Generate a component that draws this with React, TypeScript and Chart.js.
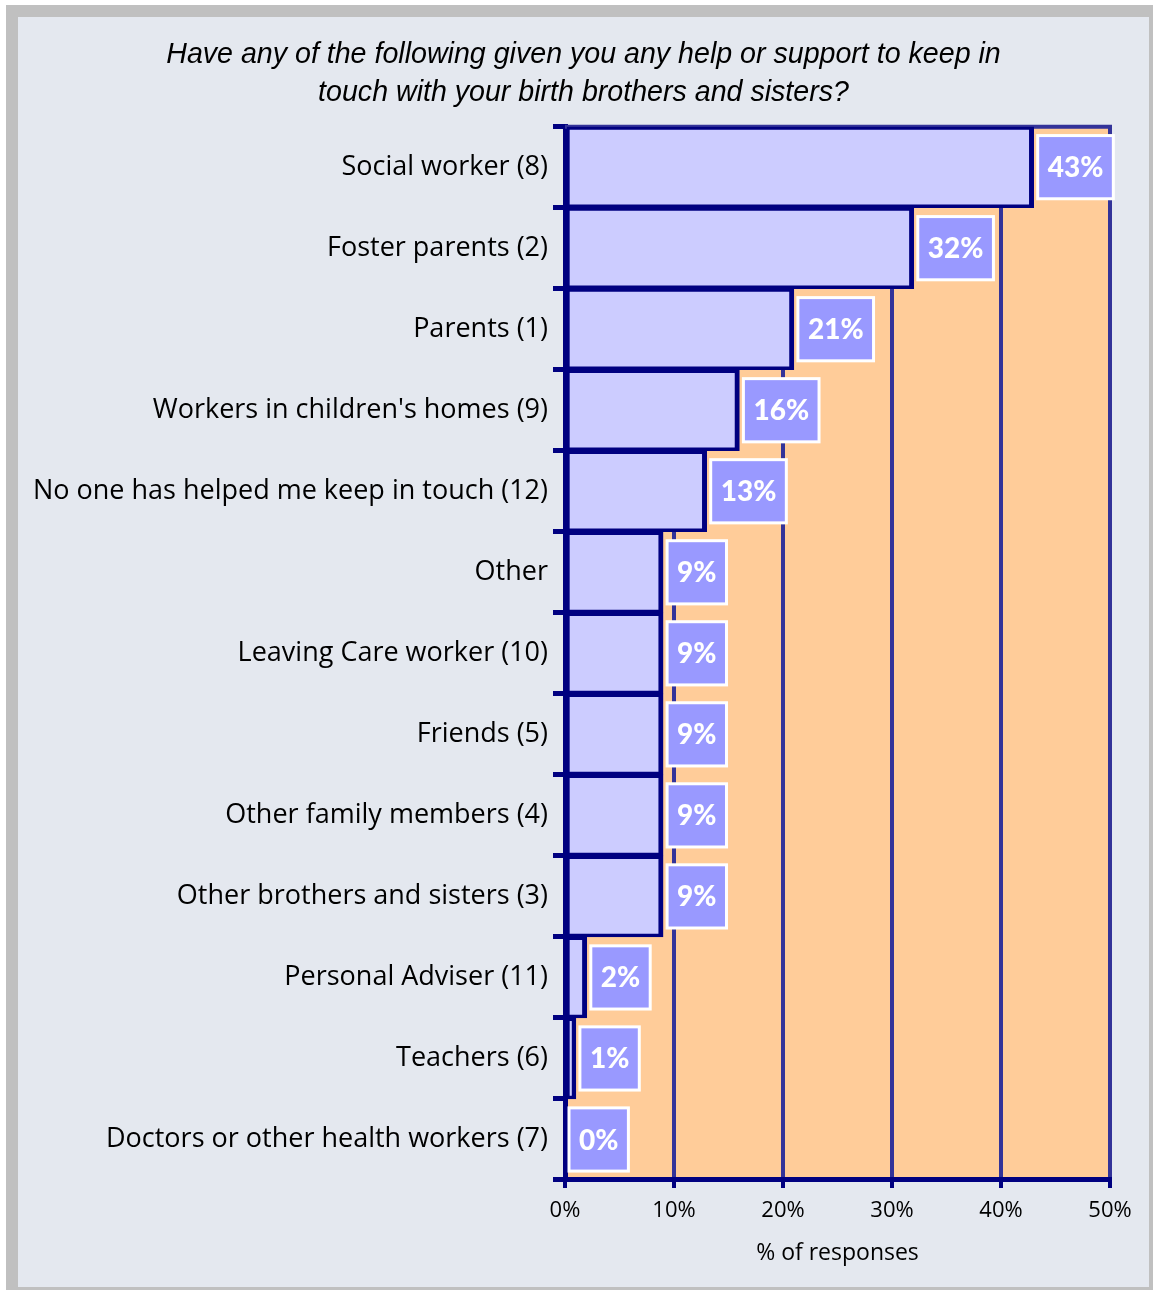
import React, { useEffect, useRef } from "react";
import { Chart, registerables } from "chart.js";

Chart.register(...registerables);

const categories = [
  "Social worker (8)",
  "Foster parents (2)",
  "Parents (1)",
  "Workers in children's homes (9)",
  "No one has helped me keep in touch (12)",
  "Other",
  "Leaving Care worker (10)",
  "Friends (5)",
  "Other family members (4)",
  "Other brothers and sisters (3)",
  "Personal Adviser (11)",
  "Teachers (6)",
  "Doctors or other health workers (7)",
];
const values = [43, 32, 21, 16, 13, 9, 9, 9, 9, 9, 2, 1, 0];
const valueLabels = ["43%", "32%", "21%", "16%", "13%", "9%", "9%", "9%", "9%", "9%", "2%", "1%", "0%"];
const titleLines = [
  "Have any of the following given you any help or support to keep in",
  "touch with your birth brothers and sisters?",
];
const xAxisTitle = "% of responses";
const xMin = 0;
const xMax = 50;
const xStep = 10;

const NAVY = "#000080";
const GRID = "#333399";
const ORANGE = "#ffcc99";
const BAR = "#ccccff";
const LABEL_BG = "#9999ff";
const FONT = "'Open Sans', Lato, sans-serif";
const LABEL_FONT = "Lato, 'Open Sans', sans-serif";

const plotBg = {
  id: "plotBg",
  beforeDraw(chart: any) {
    const { ctx, chartArea } = chart;
    ctx.save();
    ctx.fillStyle = ORANGE;
    ctx.fillRect(chartArea.left, chartArea.top, chartArea.right - chartArea.left, chartArea.bottom - chartArea.top);
    ctx.restore();
  },
  beforeDatasetsDraw(chart: any) {
    const { ctx, chartArea } = chart;
    ctx.save();
    ctx.strokeStyle = GRID;
    ctx.lineWidth = 4;
    ctx.beginPath();
    ctx.moveTo(chartArea.left, chartArea.top);
    ctx.lineTo(chartArea.right + 2, chartArea.top);
    ctx.stroke();
    ctx.restore();
  },
};

const boxLabels = {
  id: "boxLabels",
  afterDatasetsDraw(chart: any) {
    const { ctx } = chart;
    const meta = chart.getDatasetMeta(0);
    ctx.save();
    ctx.font = `900 28px ${LABEL_FONT}`;
    ctx.textAlign = "center";
    ctx.textBaseline = "middle";
    meta.data.forEach((el: any, i: number) => {
      const { x, y, height } = el.getProps(["x", "y", "height"], true);
      const text = valueLabels[i];
      const tw = ctx.measureText(text).width;
      const w = tw + 20;
      const h = height * 0.78;
      const left = x + 4;
      const top = y - h / 2;
      ctx.fillStyle = LABEL_BG;
      ctx.fillRect(left, top, w, h);
      ctx.strokeStyle = "#ffffff";
      ctx.lineWidth = 3;
      ctx.strokeRect(left, top, w, h);
      ctx.fillStyle = "#ffffff";
      ctx.fillText(text, left + w / 2, y + 1);
    });
    ctx.restore();
  },
};

export default function App() {
  const ref = useRef<HTMLCanvasElement | null>(null);

  useEffect(() => {
    if (!ref.current) return;
    const chart = new Chart(ref.current, {
      type: "bar",
      data: {
        labels: categories,
        datasets: [
          {
            data: values,
            backgroundColor: BAR,
            borderColor: NAVY,
            borderWidth: { left: 3, top: 3.5, bottom: 3.5, right: 5 } as any,
            borderSkipped: false,
            barPercentage: 1,
            categoryPercentage: 1,
          },
        ],
      },
      options: {
        indexAxis: "y",
        responsive: false,
        animation: false,
        layout: { padding: { left: 18, right: 4, top: 17, bottom: 19 } },
        plugins: {
          legend: { display: false },
          tooltip: { enabled: false },
          title: {
            display: true,
            text: titleLines,
            color: "#000",
            font: { family: "'Liberation Sans', Arial, sans-serif", size: 28.6, style: "italic", weight: "normal", lineHeight: 1.34 },
            padding: { top: 19, bottom: 14 },
          },
        },
        scales: {
          x: {
            type: "linear",
            min: xMin,
            max: xMax,
            ticks: {
              stepSize: xStep,
              callback: (v: any) => v + "%",
              color: "#000",
              font: { family: FONT, size: 22 },
              padding: 10,
            },
            grid: { color: GRID, lineWidth: 4, tickColor: NAVY, tickWidth: 4, tickLength: 8 },
            border: { color: NAVY, width: 5 },
            title: {
              display: true,
              text: xAxisTitle,
              color: "#000",
              font: { family: FONT, size: 23 },
              padding: { top: 4, bottom: 4 },
            },
            afterFit: (s: any) => {
              s.height = 91;
            },
          },
          y: {
            type: "category",
            ticks: { color: "#000", font: { family: FONT, size: 27 }, padding: 5 },
            grid: { drawOnChartArea: false, offset: true, tickColor: NAVY, tickWidth: 5, tickLength: 12 },
            border: { color: NAVY, width: 5 },
            afterFit: (s: any) => {
              s.width = 547;
            },
          },
          yRight: {
            type: "category",
            position: "right",
            display: true,
            grid: { display: false },
            ticks: { display: false },
            border: { display: false },
            afterFit: (s: any) => {
              s.width = 39;
            },
          },
        },
      } as any,
      plugins: [plotBg, boxLabels],
    });
    return () => chart.destroy();
  }, []);

  return (
    <div style={{ position: "absolute", left: 0, top: 0, width: 1153, height: 1290, background: "#ffffff" }}>
      <div style={{ position: "absolute", left: 6, top: 5, width: 1147, height: 1285, background: "#c0c0c0" }} />
      <div style={{ position: "absolute", left: 18, top: 17, width: 1131, height: 1270, background: "#e4e8ef" }} />
      <canvas ref={ref} width={1153} height={1290} style={{ position: "absolute", left: 0, top: 0 }} />
    </div>
  );
}
